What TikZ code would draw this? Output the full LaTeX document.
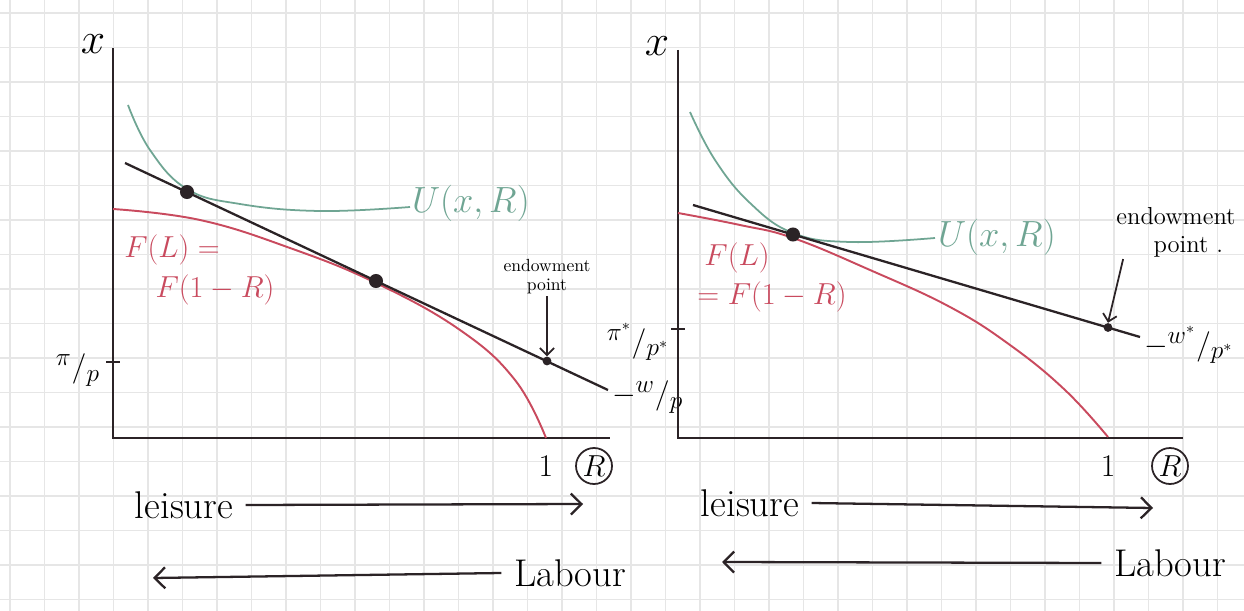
\documentclass[tikz,border=0pt]{standalone}
\usepackage{xcolor}
\usetikzlibrary{positioning, arrows.meta, calc}
\definecolor{gridgray}{HTML}{E6E6E6}
\definecolor{ink}{HTML}{2B2326}
\definecolor{sage}{HTML}{6FA593}
\definecolor{berry}{HTML}{C94A5E}

\begin{document}
\begin{tikzpicture}[x=0.02cm, y=-0.02cm,
    lbl/.style={font=\fontsize{16}{18}\selectfont, inner sep=1pt},
    big/.style={font=\fontsize{22}{24}\selectfont},
    frac/.style={font=\fontsize{19}{21}\selectfont},
    axis/.style={draw=ink, line width=1.5pt},
    budget/.style={draw=ink, line width=1.3pt},
    utility/.style={draw=sage, line width=1pt},
    prodfn/.style={draw=berry, line width=1.1pt},
    dot/.style={circle, fill=ink, inner sep=0pt, minimum size=5pt},
    bigdot/.style={dot, minimum size=8pt},
    pointer/.style={draw=ink, line width=1pt, -{Straight Barb[length=4pt, width=8pt]}},
    dirarrow/.style={draw=ink, line width=1.3pt, -{Straight Barb[length=6pt, width=12pt]}},
    ring/.style={circle, draw=ink, line width=1pt, minimum size=0.72cm, inner sep=0pt}]
    \useasboundingbox (0,0) rectangle (1244,611);
    \fill[white] (0,0) rectangle (1244,611);
    \foreach \gx in {10,44.5,...,1244} \draw[gridgray, line width=0.8pt] (\gx,0) -- (\gx,611);
    \foreach \gy in {13,47.5,...,611} \draw[gridgray, line width=0.8pt] (0,\gy) -- (1244,\gy);

    % left panel
    \coordinate (oA) at (113,438);
    \draw[axis] (113,48) -- (oA) -- (610,438);
    \draw[axis, line width=1pt] (106,362) -- (120,362);
    \node[lbl, font=\fontsize{26}{26}\selectfont] (xA) at (93,44) {$x$};
    \node[lbl, frac, anchor=east] (piA) at (102,370) {${}^{\pi}/_{p}$};
    \draw[utility] plot[smooth, tension=0.7] coordinates {(128,105) (150,150) (187,189) (240,204) (320,211) (410,207)};
    \node[lbl, big, text=sage, anchor=west] (uA) at (410,203) {$U(x,R)$};
    \draw[prodfn] plot[smooth, tension=0.7] coordinates {(113,209) (200,220) (290,248) (376,283) (460,330) (515,380) (546,438)};
    \node[lbl, text=berry] (fA) at (172,250) {$F(L)=$};
    \node[lbl, text=berry] (gA) at (215,290) {$F(1-R)$};
    \draw[budget] (125,163) -- (608,390);
    \node[lbl, frac, anchor=west] (wA) at (610,397) {$-{}^{w}/_{p}$};
    \node[bigdot] (tA) at (187,192) {};
    \node[bigdot] (sA) at (376,281) {};
    \node[dot] (eA) at (547,361) {};
    \node[lbl, font=\fontsize{10}{11}\selectfont, align=center, above=1.2cm of eA] (endA) {endowment\\point};
    \draw[pointer] (endA.south) -- (eA.north);
    \node[lbl, font=\fontsize{18}{18}\selectfont] (oneA) at (546,466) {1};
    \node[lbl, ring, font=\fontsize{18}{18}\selectfont] (rA) at (594,466) {$R$};
    \node[lbl, big, inner xsep=7pt] (leiA) at (184,505) {leisure};
    \coordinate (leiEndA) at (583,504);
    \draw[dirarrow] (leiA.east) -- (leiEndA);
    \node[lbl, big, inner xsep=7pt] (labA) at (570,573) {Labour};
    \coordinate (labEndA) at (153,578);
    \draw[dirarrow] (labA.west) -- (labEndA);

    % right panel
    \coordinate (oB) at (678,438);
    \draw[axis] (678,50) -- (oB) -- (1183,438);
    \draw[axis, line width=1pt] (671,329) -- (685,329);
    \node[lbl, font=\fontsize{26}{26}\selectfont] (xB) at (657,46) {$x$};
    \node[lbl, frac, anchor=east] (piB) at (671,342) {${}^{\pi^*}/_{p^*}$};
    \draw[utility] plot[smooth, tension=0.7] coordinates {(690,112) (715,160) (750,203) (793,233) (850,242) (935,238)};
    \node[lbl, big, text=sage, anchor=west] (uB) at (936,237) {$U(x,R)$};
    \draw[prodfn] plot[smooth, tension=0.7] coordinates {(678,213) (740,225) (793,238) (870,270) (950,307) (1010,345) (1065,390) (1108,437)};
    \node[lbl, text=berry] (fB) at (737,258) {$F(L)$};
    \node[lbl, text=berry] (gB) at (772,297) {$=F(1-R)$};
    \draw[budget] (693,205) -- (1140,337);
    \node[lbl, frac, anchor=west] (wB) at (1142,345) {$-{}^{w^*}/_{p^*}$};
    \node[bigdot] (tB) at (793,234.5) {};
    \node[dot] (eB) at (1108,327.5) {};
    \node[lbl, font=\fontsize{14}{16}\selectfont, align=center] (endB) at (1176,232) {endowment\\\quad point .};
    \draw[pointer] ([xshift=5pt]endB.south west) -- (eB.north);
    \node[lbl, font=\fontsize{18}{18}\selectfont] (oneB) at (1108,466) {1};
    \node[lbl, ring, font=\fontsize{18}{18}\selectfont] (rB) at (1170,466) {$R$};
    \node[lbl, big, inner xsep=7pt] (leiB) at (750,503) {leisure};
    \coordinate (leiEndB) at (1153,508);
    \draw[dirarrow] (leiB.east) -- (leiEndB);
    \node[lbl, big, inner xsep=7pt] (labB) at (1170,563) {Labour};
    \coordinate (labEndB) at (722,562);
    \draw[dirarrow] (labB.west) -- (labEndB);
\end{tikzpicture}
\end{document}
